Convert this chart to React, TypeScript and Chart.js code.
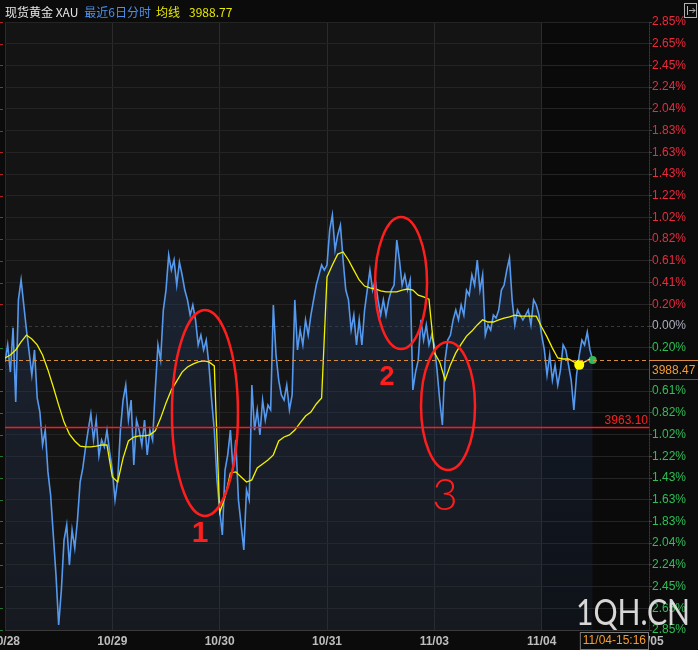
import React, { useEffect, useRef } from 'react';
import { Chart, registerables } from 'chart.js';

Chart.register(...registerables);

// ---------------- data ----------------
const dates = ['10/28', '10/29', '10/30', '10/31', '11/03', '11/04', '11/05'];
const prevClose = 4001.2;
const stepPct = 0.20385;
const pctLabels = ['0.20%', '0.41%', '0.61%', '0.82%', '1.02%', '1.22%', '1.43%', '1.63%', '1.83%', '2.04%', '2.24%', '2.45%', '2.65%', '2.85%'];
const lastPrice = 3988.47;
const avgPrice = 3988.77;
const supportPrice = 3963.1;
const cursorLabel = '11/04-15:16';
const titleName = '现货黄金 XAU';
const titleRange = '最近6日分时';
const titleAvg = '均线';
const pointsPerDayPrice = 40;
const pointsPerDayAvg = 20;
const avgMarkerIndex = 7;

const price1028 = [3987.7, 3994.1, 3983.9, 4000.5, 3972.7, 4011.0, 4018.5, 4009.1, 3999.7, 3991.4, 3982.8, 3992.2, 3974.2, 3968.9, 3956.5, 3962.1, 3946.4, 3937.7, 3922.7, 3907.7, 3888.9, 3902.0, 3920.8, 3926.5, 3911.4, 3924.6, 3917.8, 3928.3, 3942.6, 3947.9, 3955.4, 3962.1, 3968.2, 3958.4, 3965.9, 3952.4, 3958.4, 3955.8, 3962.1, 3953.9];
const price1029 = [3947.1, 3935.9, 3943.4, 3962.1, 3973.4, 3979.0, 3965.9, 3973.4, 3949.0, 3965.9, 3962.1, 3956.5, 3965.9, 3952.8, 3962.1, 3958.4, 3977.2, 3994.1, 3988.4, 4007.2, 4014.7, 4027.9, 4022.2, 4026.0, 4016.6, 4025.2, 4020.4, 4014.7, 4011.0, 4005.3, 4009.1, 4003.5, 3994.1, 3997.8, 3992.2, 3995.9, 3986.6, 3973.4, 3962.1, 3943.4];
const price1030 = [3932.1, 3922.7, 3947.1, 3952.8, 3962.1, 3947.1, 3958.4, 3935.9, 3926.5, 3917.1, 3939.6, 3935.9, 3979.0, 3962.1, 3969.7, 3960.3, 3973.4, 3965.9, 3971.5, 3969.7, 4009.1, 3990.3, 3980.9, 3975.3, 3973.4, 3979.0, 3969.7, 3975.3, 4011.0, 3992.2, 3999.7, 3994.1, 4003.5, 3997.8, 4005.3, 4011.0, 4016.6, 4020.4, 4024.1, 4022.2];
const price1031 = [4024.1, 4037.3, 4042.9, 4029.8, 4035.4, 4039.1, 4026.0, 4014.7, 4011.0, 3999.7, 4005.3, 3994.1, 4003.5, 3994.1, 4007.2, 4014.7, 4022.2, 4014.7, 4018.5, 4011.0, 4005.3, 4011.0, 4005.3, 4011.0, 4014.7, 4016.6, 4033.5, 4026.0, 4016.6, 4020.4, 4014.7, 4018.5, 3977.2, 3983.9, 3988.4, 4003.5, 3995.9, 4001.6, 3994.1, 3997.8];
const price1103 = [3994.1, 3984.7, 3973.4, 3964.0, 3988.4, 3995.9, 3997.8, 4003.5, 4007.2, 4003.5, 4009.1, 4005.3, 4014.7, 4012.8, 4020.4, 4016.6, 4026.0, 4014.7, 4020.4, 3997.8, 4001.6, 3999.7, 4005.3, 4004.2, 4007.2, 4014.7, 4016.6, 4022.2, 4026.7, 4011.0, 4001.6, 4007.2, 4005.3, 4003.5, 4005.3, 4007.2, 4001.6, 4011.0, 4009.1, 4005.3];
const price1104 = [3997.8, 3992.2, 3982.8, 3990.3, 3980.9, 3986.6, 3979.0, 3984.7, 3994.1, 3992.2, 3986.6, 3980.9, 3969.7, 3982.8, 3990.3, 3995.9, 3994.1, 3998.9, 3992.2, 3988.47];

const avg1028 = [3989.2, 3990.3, 3992.2, 3995.2, 3997.8, 3996.3, 3994.1, 3990.3, 3984.7, 3978.3, 3971.5, 3965.1, 3960.6, 3958.0, 3956.1, 3955.8, 3955.8, 3956.1, 3956.5, 3956.5];
const avg1029 = [3944.5, 3942.6, 3951.6, 3958.0, 3959.5, 3959.9, 3959.9, 3960.3, 3961.8, 3966.6, 3972.3, 3977.2, 3980.5, 3983.9, 3985.8, 3986.9, 3987.7, 3988.1, 3987.7, 3986.2];
const avg1030 = [3931.0, 3937.0, 3946.0, 3946.4, 3944.5, 3942.6, 3943.4, 3947.9, 3949.4, 3950.9, 3952.8, 3958.0, 3959.5, 3960.3, 3962.1, 3964.8, 3967.4, 3968.9, 3971.9, 3974.2];
const avg1031 = [4019.6, 4024.1, 4028.2, 4029.0, 4026.0, 4022.2, 4018.5, 4016.2, 4015.5, 4015.1, 4014.4, 4014.0, 4014.0, 4014.0, 4014.7, 4015.1, 4014.7, 4012.8, 4012.1, 4011.3];
const avg1103 = [3991.1, 3987.7, 3980.9, 3986.6, 3991.1, 3994.4, 3997.4, 3999.3, 4001.6, 4003.5, 4002.7, 4002.7, 4003.5, 4004.2, 4004.6, 4005.3, 4004.9, 4004.9, 4004.9, 4004.9];
const avg1104 = [4000.8, 3997.1, 3992.9, 3989.2, 3988.8, 3988.8, 3987.7, 3986.6, 3987.7, 3988.77];

const priceDays = [price1028, price1029, price1030, price1031, price1103, price1104];
const avgDays = [avg1028, avg1029, avg1030, avg1031, avg1103, avg1104];

// hand-drawn red annotations (anchored in data space)
const annotations = [
  { label: '1', day: 1.863, price: 3968.5, rx: 33, ry: 103, textDay: 1.817, textPrice: 3923.1, font: 'bold 30px "Liberation Sans", sans-serif' },
  { label: '2', day: 3.69, price: 4017.35, rx: 26, ry: 66, textDay: 3.559, textPrice: 3981.7, font: 'bold 27px "Liberation Sans", sans-serif' },
  { label: '3', day: 4.1275, price: 3971.15, rx: 27, ry: 64, textDay: 4.0995, textPrice: 3937.3, font: '300 44px Lato, sans-serif' },
];

// ---------------- derived ----------------
const pricePoints = priceDays.flatMap((vals, d) => vals.map((v, i) => ({ x: d + i / pointsPerDayPrice, y: v })));
const avgPoints = avgDays.flatMap((vals, d) => vals.map((v, i) => ({ x: d + i / pointsPerDayAvg, y: v })));
const avgMarkerGlobal = avgPoints.length - avg1104.length + avgMarkerIndex;
const stepCount = pctLabels.length;
const tickSteps = Array.from({ length: stepCount * 2 + 1 }, (_, i) => i - stepCount);
const yMin = prevClose * (1 - (stepCount * stepPct) / 100);
const yMax = prevClose * (1 + (stepCount * stepPct) / 100);
const priceTickValue = (k: number) => prevClose * (1 + (k * stepPct) / 100);

const FONT = '"Liberation Sans", Arial, sans-serif';

const bgPlugin = {
  id: 'bg',
  beforeDraw(chart: any) {
    const { ctx, chartArea: a, scales } = chart;
    const x = scales.x;
    ctx.save();
    ctx.fillStyle = '#0b0b0b';
    ctx.fillRect(0, 0, chart.width, chart.height);
    const split = x.getPixelForValue(5);
    ctx.fillStyle = '#141414';
    ctx.fillRect(a.left, a.top, split - a.left, a.bottom - a.top);
    ctx.fillStyle = '#0a0a0a';
    ctx.fillRect(split, a.top, a.right - split, a.bottom - a.top);
    ctx.restore();
  },
  beforeDatasetsDraw(chart: any) {
    const { ctx, chartArea: a, scales } = chart;
    const y0 = Math.round(scales.y.getPixelForValue(prevClose)) + 0.5;
    ctx.save();
    ctx.strokeStyle = '#3a3a3a';
    ctx.lineWidth = 1;
    ctx.setLineDash([3, 3]);
    ctx.beginPath();
    ctx.moveTo(a.left, y0);
    ctx.lineTo(a.right, y0);
    ctx.stroke();
    ctx.restore();
  },
  afterDatasetsDraw(chart: any) {
    const { ctx, chartArea: a, scales } = chart;
    const xs = scales.x;
    const ys = scales.y;
    ctx.save();
    // support line
    const yr = Math.round(ys.getPixelForValue(supportPrice)) + 0.5;
    ctx.strokeStyle = '#ff1a1a';
    ctx.lineWidth = 1.5;
    ctx.beginPath();
    ctx.moveTo(a.left, yr);
    ctx.lineTo(a.right, yr);
    ctx.stroke();
    ctx.fillStyle = '#ff2020';
    ctx.font = '12px ' + FONT;
    ctx.textAlign = 'right';
    ctx.textBaseline = 'middle';
    ctx.fillText(supportPrice.toFixed(2), a.right - 1, yr - 7);
    // last price dashed line
    const yl = Math.round(ys.getPixelForValue(lastPrice)) + 0.5;
    ctx.strokeStyle = '#d98c3c';
    ctx.lineWidth = 1;
    ctx.setLineDash([4, 3]);
    ctx.beginPath();
    ctx.moveTo(a.left, yl);
    ctx.lineTo(a.right, yl);
    ctx.stroke();
    ctx.setLineDash([]);
    // annotations
    ctx.strokeStyle = '#ff1e1e';
    ctx.fillStyle = '#ff1e1e';
    ctx.lineWidth = 2.5;
    annotations.forEach((an) => {
      const cx = xs.getPixelForValue(an.day);
      const cy = ys.getPixelForValue(an.price);
      ctx.beginPath();
      ctx.ellipse(cx, cy, an.rx, an.ry, 0, 0, Math.PI * 2);
      ctx.stroke();
      ctx.font = an.font;
      ctx.textAlign = 'center';
      ctx.textBaseline = 'middle';
      ctx.fillText(an.label, xs.getPixelForValue(an.textDay), ys.getPixelForValue(an.textPrice));
    });
    ctx.restore();
  },
  afterDraw(chart: any) {
    const { ctx, chartArea: a, scales, width } = chart;
    const ys = scales.y;
    ctx.save();
    // header
    ctx.font = '12px "Noto Sans CJK SC", sans-serif';
    ctx.textBaseline = 'middle';
    ctx.textAlign = 'left';
    let x = 5;
    const parts = [
      { t: titleName, c: '#e6e6e6', gap: 6 },
      { t: titleRange, c: '#4e8fe8', gap: 5 },
      { t: titleAvg, c: '#e8e800', gap: 9 },
      { t: avgPrice.toFixed(2), c: '#e8e800', gap: 0 },
    ];
    parts.forEach((p) => {
      ctx.fillStyle = p.c;
      ctx.fillText(p.t, x, 12);
      x += ctx.measureText(p.t).width + p.gap;
    });
    // icon top right
    ctx.strokeStyle = '#b0b0b0';
    ctx.lineWidth = 1;
    ctx.strokeRect(684.5, 3.5, 12, 14);
    ctx.beginPath();
    ctx.moveTo(687.5, 6);
    ctx.lineTo(687.5, 15);
    ctx.moveTo(689, 10.5);
    ctx.lineTo(695, 10.5);
    ctx.moveTo(692.5, 8);
    ctx.lineTo(695, 10.5);
    ctx.lineTo(692.5, 13);
    ctx.stroke();
    // left edge tick marks
    tickSteps.forEach((k) => {
      if (k === 0) return;
      const yy = Math.round(ys.getPixelForValue(priceTickValue(k)));
      ctx.fillStyle = k > 0 ? '#b81e1e' : '#1f7a30';
      ctx.fillRect(0, yy, 3, 1);
    });
    // right axis dotted line
    ctx.strokeStyle = '#3c3c3c';
    ctx.setLineDash([1, 2]);
    ctx.beginPath();
    ctx.moveTo(a.right + 0.5, a.top);
    ctx.lineTo(a.right + 0.5, a.bottom);
    ctx.stroke();
    ctx.setLineDash([]);
    // last price box
    const yl = Math.round(ys.getPixelForValue(lastPrice)) + 0.5;
    ctx.fillStyle = '#0b0b0b';
    ctx.fillRect(a.right + 1, yl, width - a.right - 1, 19);
    ctx.strokeStyle = '#555555';
    ctx.beginPath();
    ctx.moveTo(a.right + 0.5, yl);
    ctx.lineTo(a.right + 0.5, yl + 19);
    ctx.lineTo(width, yl + 19);
    ctx.stroke();
    ctx.strokeStyle = '#d98c3c';
    ctx.beginPath();
    ctx.moveTo(a.right, yl);
    ctx.lineTo(width, yl);
    ctx.stroke();
    ctx.fillStyle = '#f39c34';
    ctx.font = '12px ' + FONT;
    ctx.textAlign = 'left';
    ctx.fillText(lastPrice.toFixed(2), a.right + 3, yl + 10);
    // cursor time box
    ctx.font = '12px ' + FONT;
    const cw = ctx.measureText(cursorLabel).width + 6;
    const bx = a.right - cw;
    ctx.fillStyle = '#0b0b0b';
    ctx.fillRect(bx, a.bottom + 2, cw, 17);
    ctx.strokeStyle = '#7a7a7a';
    ctx.strokeRect(bx + 0.5, a.bottom + 2.5, cw - 1, 17);
    ctx.fillStyle = '#f39c34';
    ctx.textAlign = 'center';
    ctx.fillText(cursorLabel, bx + cw / 2, a.bottom + 11);
    // watermark
    ctx.font = '36px Lato, sans-serif';
    const ww = ctx.measureText('1QH.CN').width;
    ctx.translate(576, 625);
    ctx.scale(114 / ww, 1);
    ctx.textAlign = 'left';
    ctx.textBaseline = 'alphabetic';
    ctx.fillStyle = 'rgba(232,232,232,0.92)';
    ctx.fillText('1QH.CN', 0, 0);
    ctx.restore();
  },
};

export default function App() {
  const ref = useRef<HTMLCanvasElement | null>(null);
  useEffect(() => {
    document.body.style.margin = '0';
    document.body.style.background = '#0b0b0b';
    const canvas = ref.current;
    if (!canvas) return;
    const chart = new Chart(canvas, {
      type: 'line',
      data: {
        datasets: [
          {
            label: titleAvg,
            data: avgPoints,
            borderColor: '#f2f200',
            borderWidth: 1.3,
            pointRadius: (c: any) => (c.dataIndex === avgMarkerGlobal ? 5 : 0),
            pointBackgroundColor: '#ffff00',
            pointBorderWidth: 0,
            fill: false,
            order: 0,
          },
          {
            label: titleName,
            data: pricePoints,
            borderColor: '#5599ee',
            borderWidth: 1.6,
            pointRadius: (c: any) => (c.dataIndex === pricePoints.length - 1 ? 4 : 0),
            pointBackgroundColor: '#35b85c',
            pointBorderWidth: 0,
            fill: 'start',
            backgroundColor: (c: any) => {
              const ch = c.chart;
              const a = ch.chartArea;
              if (!a) return 'rgba(40,65,110,0.3)';
              const g = ch.ctx.createLinearGradient(0, a.top, 0, a.bottom);
              g.addColorStop(0, 'rgba(45,75,125,0.45)');
              g.addColorStop(1, 'rgba(30,45,75,0.22)');
              return g;
            },
            order: 1,
          },
        ],
      },
      options: {
        animation: false,
        responsive: false,
        events: [],
        layout: { padding: { left: 5, top: 22, right: 0, bottom: 0 } },
        plugins: { legend: { display: false }, tooltip: { enabled: false } },
        scales: {
          x: {
            type: 'linear',
            min: 0,
            max: dates.length - 1,
            afterBuildTicks: (s: any) => {
              s.ticks = dates.map((_, i) => ({ value: i }));
            },
            afterFit: (s: any) => {
              s.height = 20;
              s.paddingLeft = 0;
              s.paddingRight = 0;
            },
            grid: { color: '#2b2b2b', drawTicks: false },
            border: { display: true, color: '#3a3a3a' },
            ticks: {
              autoSkip: false,
              maxRotation: 0,
              padding: 4,
              color: '#bdbdbd',
              font: { family: FONT, size: 12, weight: 'bold' },
              callback: (_v: any, i: number) => dates[i],
            },
          },
          y: {
            type: 'linear',
            position: 'right',
            min: yMin,
            max: yMax,
            afterBuildTicks: (s: any) => {
              s.ticks = tickSteps.map((k) => ({ value: priceTickValue(k) }));
            },
            afterFit: (s: any) => {
              s.width = 49;
            },
            grid: {
              color: (c: any) => (c.index === stepCount ? 'rgba(0,0,0,0)' : '#242424'),
              drawTicks: true,
              tickLength: 3,
              tickColor: '#4a4a4a',
            },
            border: { display: false },
            ticks: {
              autoSkip: false,
              padding: 0,
              font: { family: FONT, size: 12 },
              color: (c: any) => {
                const k = c.index - stepCount;
                return k > 0 ? '#ec2a3c' : k < 0 ? '#2fbf55' : '#a9afbd';
              },
              callback: (_v: any, i: number) => {
                const k = i - stepCount;
                if (k === -2) return '';
                return k === 0 ? '0.00%' : pctLabels[Math.abs(k) - 1];
              },
            },
          },
        },
      },
      plugins: [bgPlugin],
    } as any);
    return () => chart.destroy();
  }, []);
  return <canvas ref={ref} width={698} height={650} style={{ display: 'block', width: 698, height: 650 }} />;
}
